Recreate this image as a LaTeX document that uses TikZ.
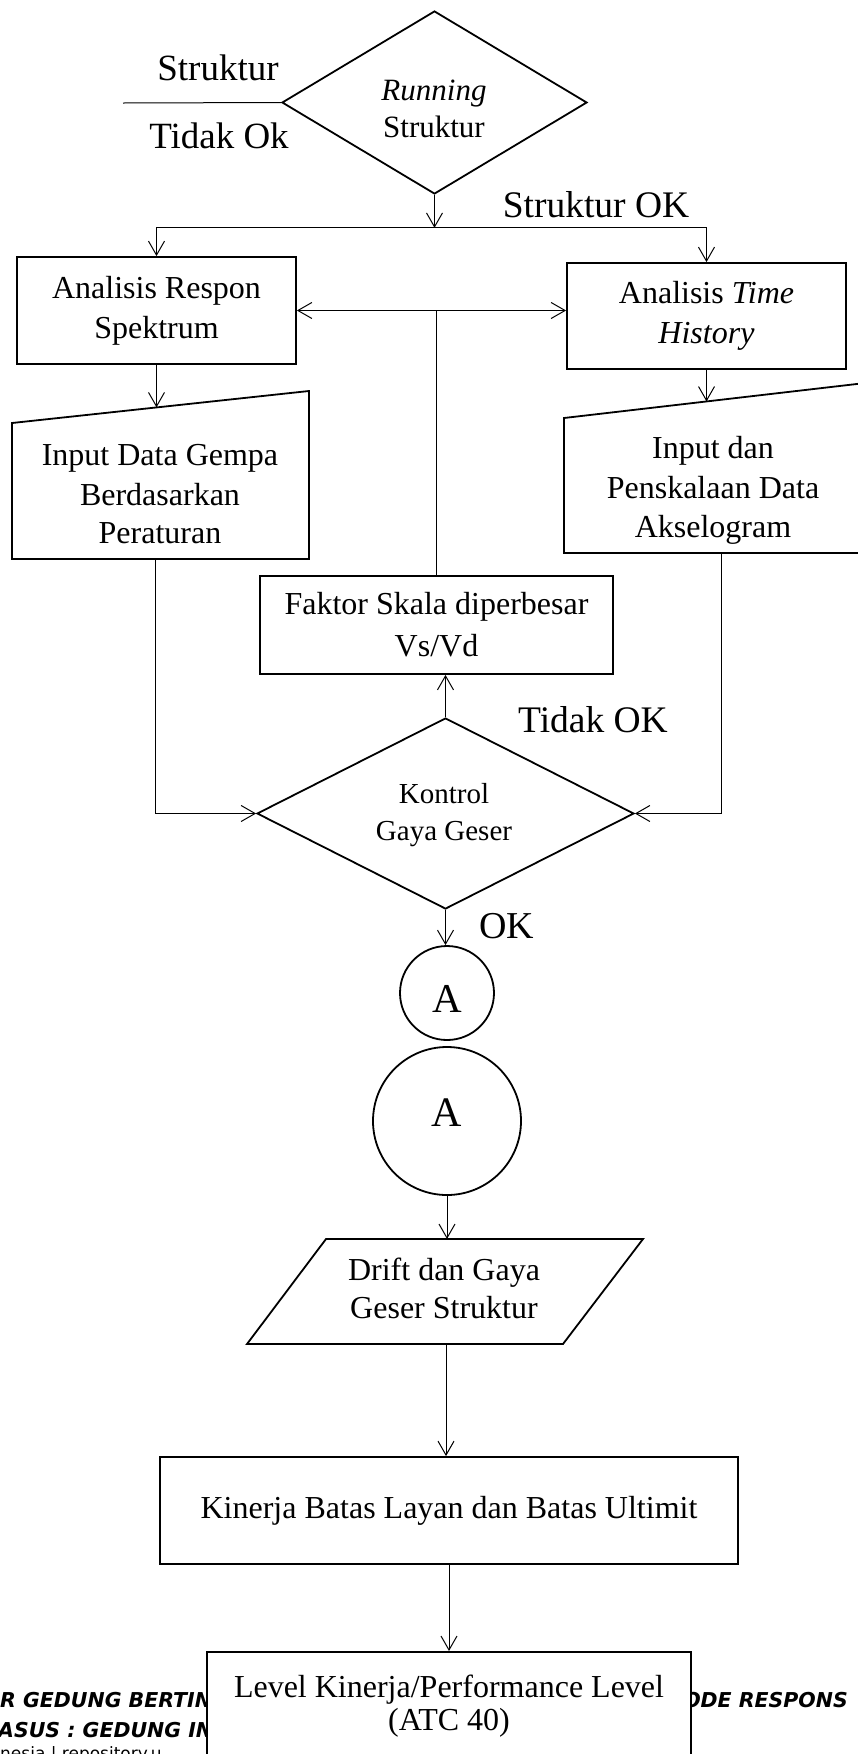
\documentclass[tikz,border=0pt]{standalone}
\usepackage{fontspec}
\setmainfont{Liberation Serif}
\newfontfamily\footfont{DejaVu Sans}
\usetikzlibrary{arrows.meta,shapes.geometric,calc}
\newcommand{\bt}{\fontsize{32}{40}\selectfont}
\begin{document}
\begin{tikzpicture}[x=1pt,y=-1pt,
  conn/.style={line width=1pt},
  arr/.style={conn,-{Straight Barb[length=14pt,width=16pt]}},
  darr/.style={conn,{Straight Barb[length=14pt,width=16pt]}-{Straight Barb[length=14pt,width=16pt]}},
  shp/.style={draw,line width=1.8pt},
  box/.style={shp,rectangle,inner sep=0pt,align=center,font=\bt},
  dia/.style={shp,diamond,inner sep=0pt},
  circ/.style={shp,circle,inner sep=0pt},
  txt/.style={inner sep=0pt,anchor=base},
  foot/.style={inner sep=0pt,font={\footfont\bfseries\itshape\fontsize{20.5}{24}\selectfont}},
]
\useasboundingbox (0,0) rectangle (857,1754);

% background footer text
\node[foot,anchor=base west] (f1) at (0,1707) {R GEDUNG BERTIN};
\node[foot,anchor=base west] (f2) at (-2,1737) {ASUS : GEDUNG INI};
\node[foot,anchor=base east] (f3) at (848,1707) {ODE RESPONS};
\node[inner sep=0pt,anchor=base west,font={\footfont\fontsize{17}{20}\selectfont}] (f4) at (0,1759) {nesia | repository.u};

% top decision
\node[dia,minimum width=305pt,minimum height=183pt] (d1) at (434.5,102.5) {};
\node[txt,font=\fontsize{31}{38}\selectfont] (d1a) at (434,100) {\textit{Running}};
\node[txt,font=\fontsize{31}{38}\selectfont] (d1b) at (434,137) {Struktur};
\node[txt,font=\fontsize{37}{40}\selectfont] (lbS) at (218,80) {Struktur};
\node[txt,font=\fontsize{37}{40}\selectfont] (lbT) at (219,148) {Tidak Ok};
\coordinate (tl) at (123,103);
\draw[conn] (tl) -- (d1.west);

\coordinate (j1) at ($(d1.south)+(0,33)$);
\draw[arr] (d1.south) -- (j1);
\node[txt,font=\fontsize{37.5}{40}\selectfont] (lbOK1) at (596,217) {Struktur OK};

% analysis boxes
\node[box,minimum width=279pt,minimum height=107pt] (lbox) at (156.5,310.5) {Analisis Respon\\Spektrum};
\node[box,minimum width=279pt,minimum height=106pt] (rbox) at (706.5,316) {Analisis \textit{Time}\\\textit{History}};
\draw[arr] (j1) -| (lbox.north);
\draw[arr] (j1) -| (rbox.north);

% scale factor box
\node[box,minimum width=353pt,minimum height=98pt,font=\fontsize{32}{42}\selectfont] (fbox) at (436.5,625) {Faktor Skala diperbesar\\Vs/Vd};
\draw[darr] (lbox.east) -- (lbox.east -| rbox.west);
\draw[conn] (fbox.north |- lbox.east) -- (fbox.north);

% left manual input
\coordinate (lt1) at (12,423);
\coordinate (lt2) at (309,391);
\coordinate (lt3) at (309,559);
\coordinate (lt4) at (12,559);
\draw[shp,line join=miter] (lt1) -- (lt2) -- (lt3) -- (lt4) -- cycle;
\coordinate (ltin) at (156.5,407.4);
\coordinate (ltout) at (155,559);
\draw[arr] (lbox.south) -- (ltin);
\node[txt,font=\bt] (lt_a) at (160,465) {Input Data Gempa};
\node[txt,font=\bt] (lt_b) at (160,505) {Berdasarkan};
\node[txt,font=\bt] (lt_c) at (160,543) {Peraturan};

% right manual input
\coordinate (rt1) at (564,418);
\coordinate (rt2) at (880,381.3);
\coordinate (rt3) at (880,553);
\coordinate (rt4) at (564,553);
\draw[shp,line join=miter] (rt2) -- (rt1) -- (rt4) -- (rt3);
\coordinate (rtin) at (706.5,401.5);
\coordinate (rtout) at (721,553);
\draw[arr] (rbox.south) -- (rtin);
\node[txt,font=\bt] (rt_a) at (713,458) {Input dan};
\node[txt,font=\bt] (rt_b) at (713,498) {Penskalaan Data};
\node[txt,font=\bt] (rt_c) at (713,537) {Akselogram};

% control decision
\node[dia,minimum width=377pt,minimum height=191pt] (d2) at (445.5,813.5) {};
\node[txt,font=\fontsize{29}{34}\selectfont] (d2a) at (444,803) {Kontrol};
\node[txt,font=\fontsize{29}{34}\selectfont] (d2b) at (444,840) {Gaya Geser};
\draw[arr] (d2.north) -- (d2.north |- fbox.south);
\draw[arr] (ltout) |- (d2.west);
\draw[arr] (rtout) |- (d2.east);
\node[txt,font=\fontsize{37.5}{40}\selectfont] (lbTOK) at (593,732) {Tidak OK};
\node[txt,font=\fontsize{38}{40}\selectfont] (lbOK2) at (507,938) {OK};

% connectors A
\node[circ,minimum size=94pt] (c1) at (447,993) {};
\node[txt,font=\fontsize{41}{46}\selectfont] (c1t) at (447,1012) {A};
\draw[arr] (d2.south) -- (d2.south |- c1.north);
\node[circ,minimum size=148pt] (c2) at (447,1121) {};
\node[txt,font=\fontsize{42}{46}\selectfont] (c2t) at (447,1126) {A};

% drift parallelogram
\coordinate (p1) at (326,1239);
\coordinate (p2) at (643,1239);
\coordinate (p3) at (563,1344);
\coordinate (p4) at (247,1344);
\draw[shp,line join=miter] (p1) -- (p2) -- (p3) -- (p4) -- cycle;
\coordinate (pin) at (447,1239);
\coordinate (pout) at (446,1344);
\draw[arr] (c2.south) -- (pin);
\node[txt,font=\fontsize{32}{40}\selectfont] (p_a) at (444,1280) {Drift dan Gaya};
\node[txt,font=\fontsize{32}{40}\selectfont] (p_b) at (444,1318) {Geser Struktur};

% performance boxes
\node[box,minimum width=578pt,minimum height=107pt] (kbox) at (449,1510.5) {Kinerja Batas Layan dan Batas Ultimit};
\draw[arr] (pout) -- (pout |- kbox.north);
\node[box,fill=white,minimum width=484pt,minimum height=160pt,anchor=north] (levbox) at (449,1651) {};
\node[txt,font=\bt] (lev_a) at (449,1697) {Level Kinerja/Performance Level};
\node[txt,font=\bt] (lev_b) at (449,1730) {(ATC 40)};
\draw[arr] (kbox.south) -- (levbox.north);
\end{tikzpicture}
\end{document}
